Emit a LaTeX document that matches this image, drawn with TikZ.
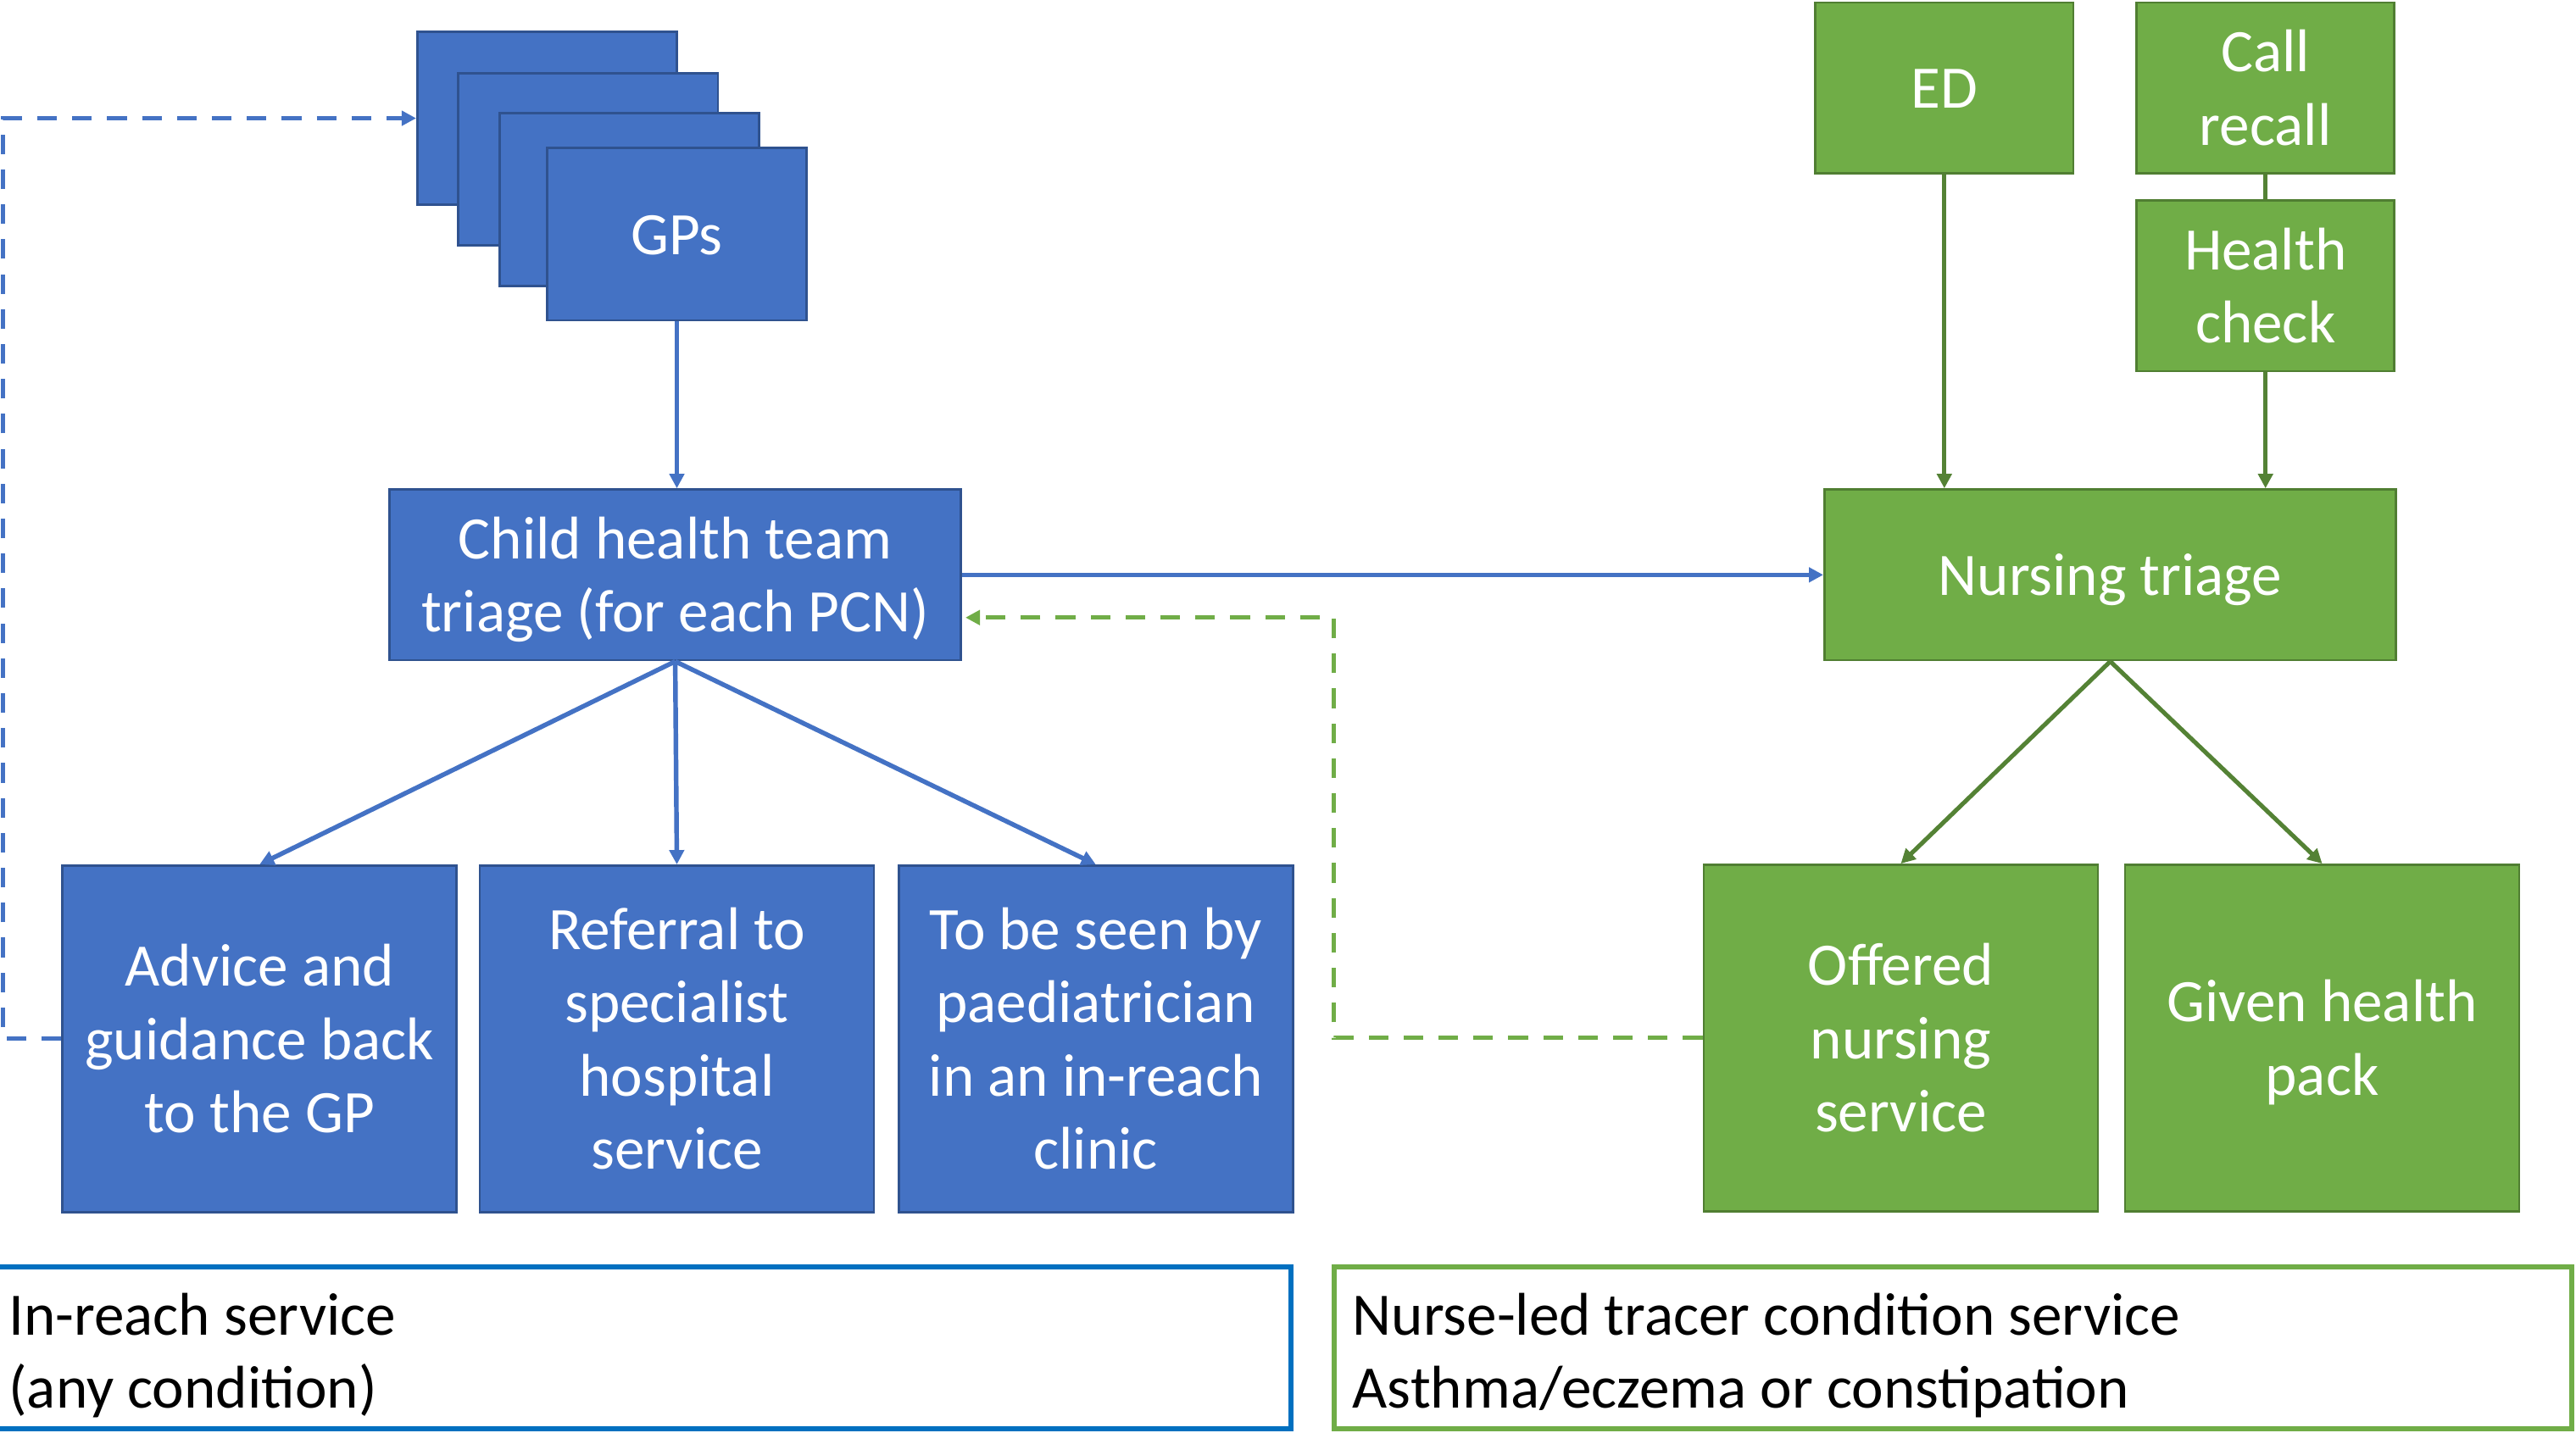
\documentclass[tikz,border=0pt]{standalone}
\usepackage{fontspec}
\setmainfont{Carlito}
\usetikzlibrary{arrows.meta,calc}

\definecolor{boxblue}{HTML}{4472C4}
\definecolor{blueedge}{HTML}{2F528F}
\definecolor{boxgreen}{HTML}{70AD47}
\definecolor{greenedge}{HTML}{507E32}
\definecolor{darkgreen}{HTML}{548235}
\definecolor{keyblue}{HTML}{0070C0}

% line box of the body font: ascent plus descent of a line
\newcommand\ls{\rule[-0.269em]{0pt}{1.221em}}

\begin{document}
\begin{tikzpicture}[x=0.02cm,y=-0.02cm,
  txt/.style={font=\fontsize{20.9}{25.4}\selectfont, execute at end node=\ls},
  bluebox/.style={draw=blueedge, fill=boxblue, line width=0.8pt, text=white,
    align=center, inner sep=0pt, txt},
  greenbox/.style={draw=greenedge, fill=boxgreen, line width=0.8pt, text=white,
    align=center, inner sep=0pt, txt},
  gpsize/.style={minimum width=3.16cm, minimum height=2.10cm},
  widesize/.style={minimum width=6.96cm, minimum height=2.08cm},
  tallsize/.style={minimum width=4.8cm, minimum height=4.22cm},
  smallsize/.style={minimum width=3.14cm, minimum height=2.08cm},
  tip/.style={-{Triangle[length=5pt,width=5pt]}},
  blueflow/.style={draw=boxblue, line width=1.6pt, tip},
  greenflow/.style={draw=darkgreen, line width=1.5pt, tip},
  bluereturn/.style={draw=boxblue, line width=1.5pt, dash pattern=on 6.8pt off 5.3pt, tip},
  greenreturn/.style={draw=boxgreen, line width=1.5pt, dash pattern=on 6.8pt off 5.3pt, tip},
  keytext/.style={txt, text=black, align=left, inner sep=0pt, anchor=west}
]
\useasboundingbox (0,0) rectangle (1568,872);

% stack of GP practices
\node[bluebox, gpsize] (gpa) at (333,72) {};
\node[bluebox, gpsize] (gpb) at (358,97) {};
\node[bluebox, gpsize] (gpc) at (383,121.5) {};
\node[bluebox, gpsize] (gp) at (412,142.5) {\ls GPs};

% in-reach pathway
\node[bluebox, widesize] (child) at (411,350) {\ls Child health team\\triage (for each PCN)};
\node[bluebox, tallsize] (advice) at (158,632.5) {\ls Advice and\\guidance back\\to the GP};
\node[bluebox, tallsize] (referral) at (412,632.5) {\ls Referral to\\specialist\\hospital\\service};
\node[bluebox, tallsize] (seen) at (667,632.5) {\ls To be seen by\\paediatrician\\in an in-reach\\clinic};

% nurse-led pathway
\node[greenbox, smallsize] (ed) at (1183.5,53.5) {\ls ED};
\node[greenbox, smallsize] (call) at (1379,53.5) {\ls Call\\recall};
\node[greenbox, smallsize] (health) at (1379,174) {\ls Health\\check};
\node[greenbox, widesize] (nursing) at (1284.5,350) {\ls Nursing triage};
\node[greenbox, tallsize] (offered) at (1157,632) {\ls Offered\\nursing\\service};
\node[greenbox, tallsize] (given) at (1413.5,632) {\ls Given health\\pack};

% connectors
\draw[blueflow] (gp.south) -- (gp.south |- child.north);
\draw[blueflow] (child.south) -- (advice.north);
\draw[blueflow] (child.south) -- (referral.north);
\draw[blueflow] (child.south) -- (seen.north);
\draw[blueflow] (child.east) -- (nursing.west);

\draw[greenflow] (ed.south) -- (ed.south |- nursing.north);
\draw[draw=darkgreen, line width=1.5pt] (call.south) -- (health.north);
\draw[greenflow] (health.south) -- (health.south |- nursing.north);
\draw[greenflow] (nursing.south) -- (offered.north);
\draw[greenflow] (nursing.south) -- (given.north);

% feedback loops
\coordinate (leftrail) at (2,0);
\coordinate (midrail) at (812,0);
\coordinate (childin) at ($(child.east)+(2,26)$);
\draw[bluereturn] (advice.west) -- (advice.west -| leftrail) -- (gpa.west -| leftrail) -- (gpa.west);
\draw[greenreturn] (offered.west) -- (offered.west -| midrail) -- (childin -| midrail) -- (childin);

% key
\draw[draw=keyblue, line width=1.75pt] (-5,771.5) rectangle (786,870);
\draw[draw=boxgreen, line width=1.75pt] (812,771.5) rectangle (1565.5,870);
\node[keytext] (keyin) at (5,822.5) {\ls In-reach service\\(any condition)};
\node[keytext] (keynurse) at (823,822.5) {\ls Nurse-led tracer condition service\\Asthma/eczema or constipation};
\end{tikzpicture}
\end{document}
